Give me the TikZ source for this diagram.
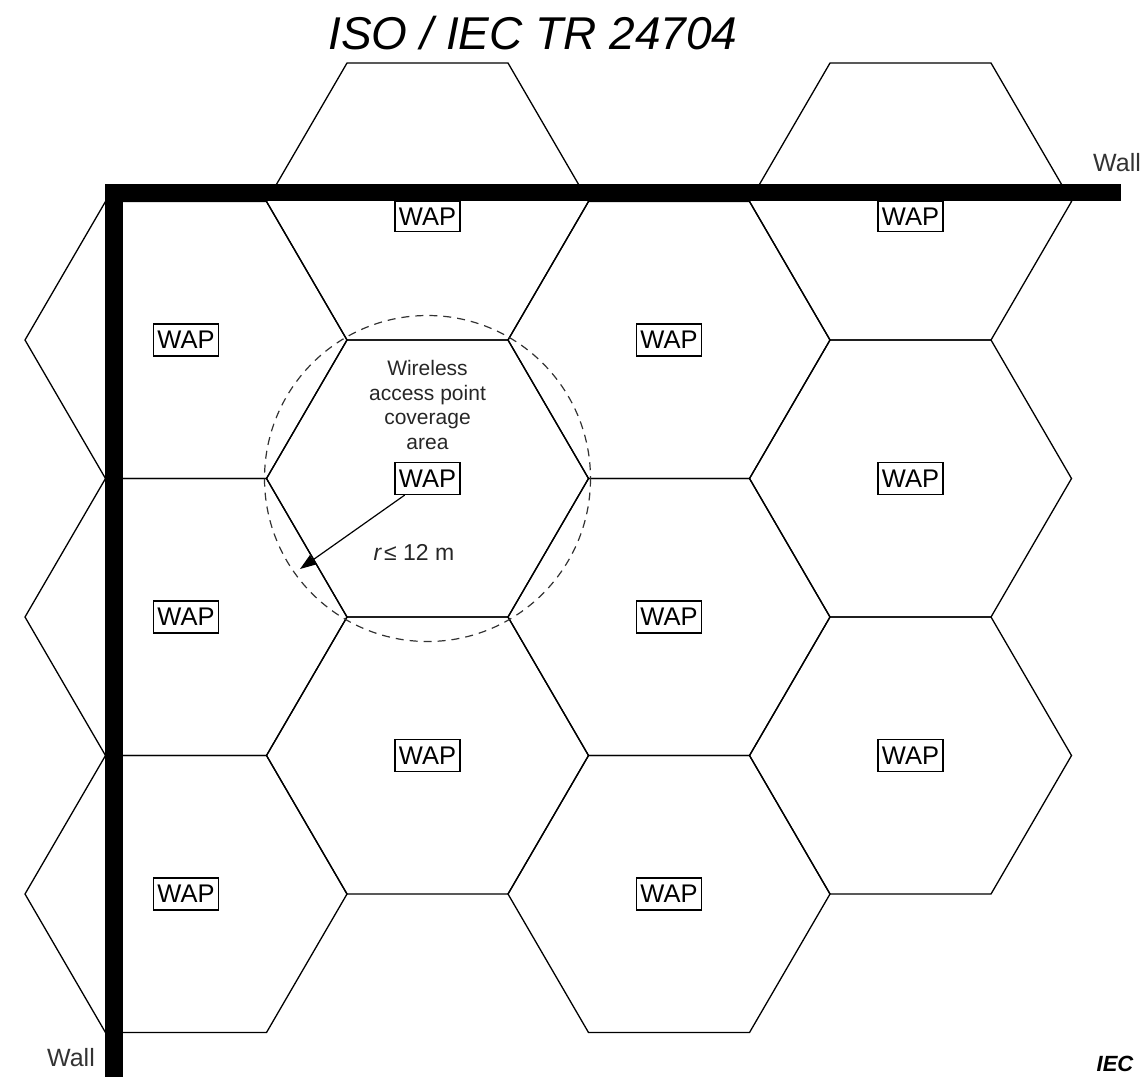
\documentclass[tikz,border=0pt]{standalone}
\usepackage{fontspec}
\setmainfont{Liberation Sans}
\usetikzlibrary{arrows.meta}
\begin{document}
\begin{tikzpicture}[x=0.5pt,y=-0.5pt,
  hexline/.style={line width=0.65pt, draw=black},
  wap/.style={draw=black, fill=white, line width=0.6pt, minimum width=32.5pt, minimum height=16pt, inner sep=0pt, font=\fontsize{12.75}{14}\selectfont},
  wallbar/.style={fill=black, draw=none},
  walllabel/.style={font=\fontsize{12.5}{14}\selectfont, text=black!80, inner sep=0pt},
  coverage/.style={dash pattern=on 4pt off 3pt, line width=0.6pt, draw=black!80},
  covtext/.style={font=\fontsize{10.5}{12.25}\selectfont, align=center, text=black!85, inner sep=0pt},
  radiusarrow/.style={line width=0.6pt, -{Triangle[length=8pt,width=5.5pt]}}]
\useasboundingbox (0,0) rectangle (1144,1077);
% hexagonal cells
\foreach \cx/\cy in {186/340,186/617,186/894,427.5/201.5,427.5/478.5,427.5/755.5,669/340,669/617,669/894,910.5/201.5,910.5/478.5,910.5/755.5}
  \draw[hexline] (\cx-161,\cy) -- ++(80.5,-138.5) -- ++(161,0) -- ++(80.5,138.5) -- ++(-80.5,138.5) -- ++(-161,0) -- cycle;
% coverage circle
\draw[coverage] (427.5,478.5) circle[radius=163];
% walls
\fill[wallbar] (105,184) rectangle (1121,201);
\fill[wallbar] (105,184) rectangle (123,1077);
% access points
\node[wap] (w1) at (186,340) {WAP};
\node[wap] (w2) at (186,617) {WAP};
\node[wap] (w3) at (186,894) {WAP};
\node[wap, minimum height=15pt] (w4) at (427.5,216.5) {WAP};
\node[wap] (w5) at (427.5,478.5) {WAP};
\node[wap] (w6) at (427.5,755.5) {WAP};
\node[wap] (w7) at (669,340) {WAP};
\node[wap] (w8) at (669,617) {WAP};
\node[wap] (w9) at (669,894) {WAP};
\node[wap, minimum height=15pt] (w10) at (910.5,216.5) {WAP};
\node[wap] (w11) at (910.5,478.5) {WAP};
\node[wap] (w12) at (910.5,755.5) {WAP};
% labels
\node[covtext] (cov) at (427.5,405) {Wireless\\access point\\coverage\\area};
\coordinate (rtip) at (300,569);
\draw[radiusarrow] (w5.216) -- (rtip);
\node[font=\fontsize{11.5}{13}\selectfont, text=black!85] (rlab) at (414,552) {\textit{r}\kern1pt≤ 12 m};
\node[walllabel] (wallr) at (1117,163) {Wall};
\node[walllabel] (walll) at (71,1058) {Wall};
\node[font=\fontsize{11}{12}\selectfont\bfseries\itshape, inner sep=0pt] (iec) at (1115,1064) {IEC};
\node[font=\fontsize{23}{26}\selectfont\itshape, inner sep=0pt] (title) at (533,33) {ISO / IEC TR 24704};
\end{tikzpicture}
\end{document}
